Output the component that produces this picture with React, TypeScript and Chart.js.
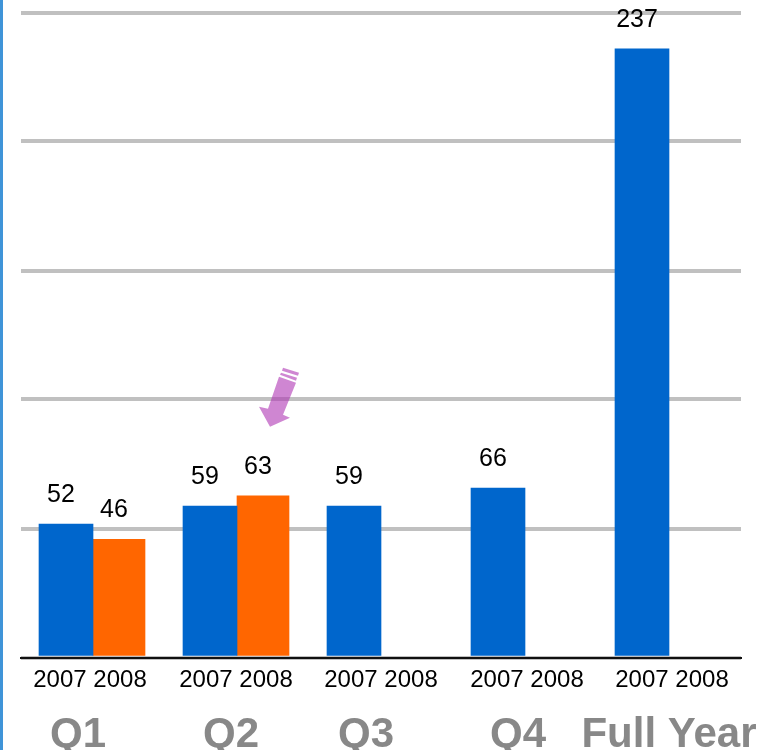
import { useEffect, useRef } from "react";
import { Chart, registerables } from "chart.js";

Chart.register(...registerables);

const quarters = ["Q1", "Q2", "Q3", "Q4", "Full Year"];
const yearTicks = ["2007 2008", "2007 2008", "2007 2008", "2007 2008", "2007 2008"];
const values2007 = [52, 59, 59, 66, 237];
const values2008: (number | null)[] = [46, 63, null, null, null];
const gridValues = [0, 50, 100.5, 150.5, 201, 251];
const quarterLabelShift = [-15, -6, -15, -7, 0];
const yearTickShift = [-3, -1, 0, 2, 3];

const FONT = '"Liberation Sans", Arial, sans-serif';

// Numbers above the bars, the year pairs under the axis and the large period names.
const labelsPlugin = {
  id: "chartLabels",
  afterDatasetsDraw(chart: any) {
    const { ctx } = chart;
    const xScale = chart.scales.x;
    ctx.save();
    ctx.textAlign = "center";
    ctx.textBaseline = "middle";
    ctx.fillStyle = "#000000";
    ctx.font = `25px ${FONT}`;
    chart.data.datasets.forEach((ds: any, d: number) => {
      chart.getDatasetMeta(d).data.forEach((bar: any, i: number) => {
        if (ds.data[i] == null) return;
        ctx.fillText(String(ds.data[i]), bar.x - 5, bar.y - 29);
      });
    });
    ctx.font = `24px ${FONT}`;
    yearTicks.forEach((t, i) => {
      ctx.fillText(t, xScale.getPixelForValue(i) + yearTickShift[i], 680);
    });
    ctx.fillStyle = "#888888";
    ctx.font = `bold 42px ${FONT}`;
    quarters.forEach((q, i) => {
      ctx.fillText(q, xScale.getPixelForValue(i) + quarterLabelShift[i], 735);
    });
    ctx.restore();
  },
};

// Callout arrow pointing down at the second-quarter 2008 bar.
const arrowPlugin = {
  id: "calloutArrow",
  afterDatasetsDraw(chart: any) {
    const { ctx } = chart;
    const tipX = chart.getDatasetMeta(1).data[1].x + 7;
    const tipY = chart.scales.y.getPixelForValue(63) - 69;
    const shapes = [
      [[0, 0], [-11, -20], [-2, -18], [9, -50], [26, -44], [13, -12], [20, -9]],
      [[10, -52], [26, -46], [27, -49], [11, -54]],
      [[12, -56], [28, -51], [29, -54], [13, -59]],
    ];
    ctx.save();
    ctx.fillStyle = "rgba(175, 53, 180, 0.6)";
    shapes.forEach((shape) => {
      ctx.beginPath();
      shape.forEach(([x, y], i) => {
        if (i === 0) ctx.moveTo(tipX + x, tipY + y);
        else ctx.lineTo(tipX + x, tipY + y);
      });
      ctx.closePath();
      ctx.fill();
    });
    ctx.restore();
  },
};

export default function App() {
  const canvasRef = useRef<HTMLCanvasElement>(null);

  useEffect(() => {
    const chart = new Chart(canvasRef.current!, {
      type: "bar",
      data: {
        labels: yearTicks,
        datasets: [
          { label: "2007", data: values2007, backgroundColor: "#0066cc", barThickness: 54 },
          { label: "2008", data: values2008, backgroundColor: "#ff6600", barThickness: 52 },
        ],
      },
      options: {
        responsive: false,
        animation: false,
        layout: { padding: { left: 21, right: 30, top: 13, bottom: 0 } },
        plugins: { legend: { display: false }, tooltip: { enabled: false } },
        scales: {
          x: {
            grid: { display: false },
            border: { display: true, color: "#111111", width: 2, z: 1 },
            ticks: { display: false },
            afterFit: (scale: any) => {
              scale.height = 92.5;
            },
          },
          y: {
            min: 0,
            max: 251,
            border: { display: false },
            grid: { color: "#c0c0c0", lineWidth: 4, drawTicks: false },
            ticks: { display: false },
            afterBuildTicks: (scale: any) => {
              scale.ticks = gridValues.map((value) => ({ value }));
            },
            afterFit: (scale: any) => {
              scale.width = 0;
            },
          },
        },
      },
      plugins: [labelsPlugin, arrowPlugin],
    } as any);
    return () => chart.destroy();
  }, []);

  return (
    <div style={{ position: "fixed", left: 0, top: 0, width: 771, height: 750, background: "#ffffff", overflow: "hidden" }}>
      <div style={{ position: "absolute", left: 0, top: 0, width: 3, height: 750, background: "#3f94d8" }} />
      <canvas ref={canvasRef} width={771} height={750} style={{ display: "block" }} />
    </div>
  );
}
